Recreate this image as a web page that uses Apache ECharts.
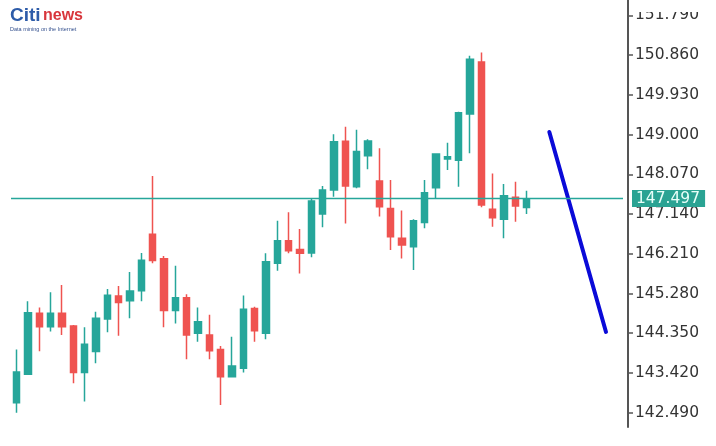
<!DOCTYPE html>
<html><head><meta charset="utf-8">
<script src="https://cdn.jsdelivr.net/npm/echarts@6/dist/echarts.min.js"></script>
<style>html,body{margin:0;padding:0;background:#fff}#c{width:716px;height:446px}</style>
</head><body><div id="c"></div>
<script>
// ---- data ----
const categories = Array.from({length: 54}, (_, i) => String(i + 1));
const opens  = [142.72,143.39,144.82,144.50,144.82,144.52,143.43,143.92,144.68,145.22,145.11,145.345,146.665,146.09,144.88,145.18,144.35,144.31,143.97,143.33,143.53,144.93,144.35,145.99,146.515,146.31,146.23,147.14,147.70,148.84,147.78,148.505,147.91,147.27,146.57,146.375,146.94,147.755,148.43,148.40,149.48,150.70,147.25,147.02,147.53,147.29];
const closes = [143.44,144.83,144.50,144.82,144.50,143.43,144.09,144.70,145.24,145.07,145.34,146.06,146.05,144.88,145.18,144.31,144.62,143.94,143.33,143.58,144.91,144.41,146.02,146.515,146.28,146.22,147.445,147.70,148.83,147.795,148.60,148.85,147.31,146.61,146.415,146.98,147.64,148.545,148.48,149.51,150.76,147.35,147.05,147.57,147.33,147.497];
const lows   = [142.49,143.37,143.93,144.39,144.31,143.18,142.75,143.65,144.37,144.29,144.70,145.10,145.99,144.49,144.58,143.74,144.15,143.74,142.67,143.32,143.43,144.15,144.21,145.81,146.22,145.75,146.13,146.83,147.545,146.92,147.74,148.19,147.08,146.30,146.10,145.83,146.805,147.51,148.17,147.78,148.56,147.30,146.84,146.57,146.96,147.14];
const highs  = [143.97,145.10,144.95,145.31,145.48,144.54,144.49,144.85,145.385,145.455,145.78,146.23,148.03,146.16,145.93,145.26,144.95,144.78,144.05,144.27,145.23,144.97,146.22,146.98,147.18,146.79,147.49,147.795,149.005,149.18,149.11,148.89,148.68,147.935,147.22,147.02,147.935,148.56,148.81,149.53,150.845,150.92,148.09,147.84,147.895,147.685];
const trendIdx = [47, 52];
const trendVal = [149.06, 144.38];
const lastPrice = 147.497;
const yMin = 142.49, yMax = 151.79, yStep = 0.93;

// ---- build ----
const candles = opens.map((o, i) => [o, closes[i], lows[i], highs[i]]);
const trend = trendIdx.map((x, i) => [x, trendVal[i]]);
const UP = '#26a69a', DOWN = '#ef5350';

const chart = echarts.init(document.getElementById('c'), null, {renderer: 'canvas'});
chart.setOption({
  animation: false,
  backgroundColor: '#ffffff',
  grid: [
    {left: 11, width: 612, top: 15.3, height: 397.4},
    {left: 11, width: 612, top: 0, height: 427}
  ],
  xAxis: [
    {type: 'category', data: categories, gridIndex: 0, boundaryGap: true, show: false},
    {type: 'category', data: categories, gridIndex: 1, show: false}
  ],
  yAxis: [
    {
      type: 'value', gridIndex: 0, position: 'right', offset: 5,
      min: yMin, max: yMax, interval: yStep, scale: true,
      axisLine: {show: false},
      axisTick: {show: true, length: 5, lineStyle: {color: '#555', width: 1.5}},
      axisLabel: {margin: 7, color: '#333', fontSize: 15.5, fontFamily: 'DejaVu Sans',
        formatter: v => v.toFixed(3)},
      splitLine: {show: false}
    },
    {
      type: 'value', gridIndex: 1, position: 'right', offset: 5,
      axisLine: {show: true, lineStyle: {color: '#555', width: 2}},
      axisTick: {show: false}, axisLabel: {show: false}, splitLine: {show: false}
    }
  ],
  series: [
    {
      type: 'candlestick', xAxisIndex: 0, yAxisIndex: 0,
      data: candles, barWidth: 7,
      itemStyle: {color: UP, color0: DOWN, borderColor: UP, borderColor0: DOWN, borderWidth: 1.5},
      markLine: {
        silent: true, symbol: 'none', animation: false,
        lineStyle: {color: UP, width: 1.3, type: 'solid'},
        label: {
          position: 'end', distance: 9, formatter: () => lastPrice.toFixed(3),
          color: '#e8fff9', backgroundColor: '#2aa393', fontSize: 15.5, fontFamily: 'DejaVu Sans',
          padding: [1, 5, 0, 4]
        },
        data: [{yAxis: lastPrice}]
      },
      z: 3
    },
    {
      type: 'line', xAxisIndex: 0, yAxisIndex: 0,
      data: trend, symbol: 'none',
      lineStyle: {color: '#0a0ad8', width: 4, cap: 'round'},
      z: 4
    }
  ],
  graphic: [
    {type: 'rect', left: 631, top: 0, shape: {width: 85, height: 12}, style: {fill: '#ffffff'}, z: 100},
    {type: 'text', left: 10, top: 6, style: {text: 'Citi', fill: '#2d5ba8', font: 'bold 19px "Liberation Sans"'}},
    {type: 'text', left: 43, top: 8, style: {text: 'news', fill: '#d8363c', font: 'bold 16px "Liberation Sans"'}},
    {type: 'text', left: 10, top: 26, style: {text: 'Data mining on the Internet', fill: '#34508e', font: '5.5px "Liberation Sans"'}}
  ]
});
</script>
</body></html>
